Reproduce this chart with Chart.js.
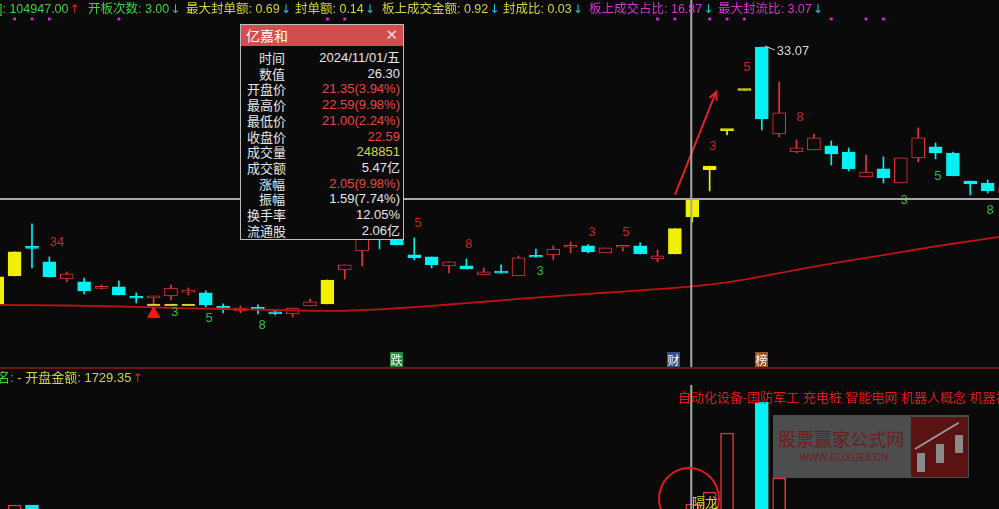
<!DOCTYPE html>
<html>
<head>
<meta charset="utf-8">
<script src="https://cdn.jsdelivr.net/npm/chart.js@4.4.1/dist/chart.umd.min.js"></script>
<style>
html, body { margin: 0; padding: 0; background: #0a0a0a; width: 999px; height: 509px; overflow: hidden; }
body { position: relative; font-family: "Liberation Sans", "Noto Sans CJK SC", sans-serif; }
canvas { position: absolute; left: 0; }
.t { position: absolute; white-space: nowrap; font-size: 12.5px; line-height: 16px; }
.g { color: #3fd23f; }
.y { color: #d4d43a; }
.m { color: #d233d2; }
.up { color: #e52a2a; margin-left: 1px; font-family: "DejaVu Sans", sans-serif; font-size: 12px; }
.dn { color: #18c8dc; margin-left: 1px; font-family: "DejaVu Sans", sans-serif; font-size: 12px; }
.tag { position: absolute; top: 352px; width: 13px; height: 15px; font-size: 12px; line-height: 15px; color: #fff; text-align: center; font-family: "Noto Sans CJK SC", sans-serif; }
#tip { position: absolute; left: 240px; top: 24px; width: 162px; height: 214px; background: #0a0a0a; border: 1px solid #bdbdbd; }
#tip .tt { height: 21px; background: #d24d4d; color: #fff; font-size: 14px; line-height: 21px; padding-left: 5px; font-family: "Noto Sans CJK SC", sans-serif; }
#tip .x { position: absolute; right: 5px; top: 0; color: #f3d6d6; font-size: 15px; font-family: "DejaVu Sans", sans-serif; }
#tip .r { position: absolute; left: 0; width: 159px; height: 16px; font-size: 13px; line-height: 16px; }
#tip .l { position: absolute; color: #e6e6e6; font-family: "Noto Sans CJK SC", sans-serif; }
#tip .v { position: absolute; right: 0; color: #e6e6e6; }
#tip .v.red { color: #e84646; }
#tip .v.yel { color: #d8d832; }
</style>
</head>
<body>
<canvas id="kline" width="999" height="368" style="top:0"></canvas>
<canvas id="vol" width="999" height="200" style="top:368px"></canvas>

<!-- indicator header -->
<div class="t g" style="left:-1px;top:1px">]: 104947.00<span class="up">↑</span></div>
<div class="t g" style="left:88px;top:1px">开板次数: 3.00<span class="dn">↓</span></div>
<div class="t y" style="left:186px;top:1px">最大封单额: 0.69<span class="dn">↓</span></div>
<div class="t y" style="left:295px;top:1px">封单额: 0.14<span class="dn">↓</span></div>
<div class="t y" style="left:382px;top:1px">板上成交金额: 0.92<span class="dn">↓</span></div>
<div class="t y" style="left:503px;top:1px">封成比: 0.03<span class="dn">↓</span></div>
<div class="t m" style="left:589px;top:1px">板上成交占比: 16.87<span class="dn">↓</span></div>
<div class="t m" style="left:718px;top:1px">最大封流比: 3.07<span class="dn">↓</span></div>

<!-- event tags -->
<div class="tag" style="left:390px;background:#1f8a3b">跌</div>
<div class="tag" style="left:667px;background:#34518c">财</div>
<div class="tag" style="left:755px;background:#9a5620">榜</div>
<div style="position:absolute;left:0;top:367px;width:999px;height:2px;background:#6e1414"></div>

<!-- lower panel header -->
<div class="t" style="left:-3px;top:370px;font-size:13px"><span class="g">名:</span><span class="y"> - 开盘金额: 1729.35</span><span class="up">↑</span></div>
<div class="t" style="left:678px;top:390px;font-size:13px;color:#e01a1a">自动化设备-国防军工 充电桩 智能电网 机器人概念 机器视觉</div>

<!-- watermark -->
<div style="position:absolute;left:773px;top:415px;width:196px;height:63px;background:rgba(120,120,120,0.62)">
  <div style="position:absolute;left:5px;top:14px;font-size:18px;line-height:19px;color:#6c1e1e;font-family:'Noto Sans CJK SC',sans-serif;white-space:nowrap">股票赢家公式网</div>
  <div style="position:absolute;left:26px;top:37px;font-size:10px;line-height:12px;color:#6c1e1e;white-space:nowrap">WWW.GUXUE8.CN</div>
  <div style="position:absolute;left:138px;top:2px;width:57px;height:60px;background:#5a1212">
    <div style="position:absolute;left:6px;top:36px;width:8px;height:19px;background:#8a8a8a"></div>
    <div style="position:absolute;left:25px;top:27px;width:8px;height:19px;background:#8a8a8a"></div>
    <div style="position:absolute;left:44px;top:18px;width:8px;height:18px;background:#8a8a8a"></div>
    <div style="position:absolute;left:4px;top:31px;width:51px;height:2px;background:#9a9a9a;transform-origin:0 50%;transform:rotate(-31deg)"></div>
  </div>
</div>

<!-- circled tag -->
<div style="position:absolute;left:658px;top:467px;width:58px;height:60px;border:2px solid #e01a1a;border-radius:50%"></div>
<div class="t" style="left:692px;top:494px;font-size:13px;color:#d8d832;font-family:'Noto Sans CJK SC',sans-serif">隔龙</div>

<!-- data window -->
<div id="tip">
  <div class="tt">亿嘉和<span class="x">✕</span></div>
  <div class="r" style="top:25px"><span class="l" style="left:18px">时间</span><span class="v">2024/11/01/五</span></div>
  <div class="r" style="top:41px"><span class="l" style="left:18px">数值</span><span class="v">26.30</span></div>
  <div class="r" style="top:56px"><span class="l" style="left:6px">开盘价</span><span class="v red">21.35(3.94%)</span></div>
  <div class="r" style="top:72px"><span class="l" style="left:6px">最高价</span><span class="v red">22.59(9.98%)</span></div>
  <div class="r" style="top:88px"><span class="l" style="left:6px">最低价</span><span class="v red">21.00(2.24%)</span></div>
  <div class="r" style="top:104px"><span class="l" style="left:6px">收盘价</span><span class="v red">22.59</span></div>
  <div class="r" style="top:119px"><span class="l" style="left:6px">成交量</span><span class="v yel">248851</span></div>
  <div class="r" style="top:135px"><span class="l" style="left:6px">成交额</span><span class="v">5.47亿</span></div>
  <div class="r" style="top:151px"><span class="l" style="left:18px">涨幅</span><span class="v red">2.05(9.98%)</span></div>
  <div class="r" style="top:166px"><span class="l" style="left:18px">振幅</span><span class="v">1.59(7.74%)</span></div>
  <div class="r" style="top:182px"><span class="l" style="left:6px">换手率</span><span class="v">12.05%</span></div>
  <div class="r" style="top:198px"><span class="l" style="left:6px">流通股</span><span class="v">2.06亿</span></div>
</div>

<script>
// daily bars, oldest first; bar 40 is 2024/11/01
const opens  = [15.28, 17.28, 19.32, 18.25, 17.07, 16.87, 16.42, 16.52, 15.78, 15.76,
                15.90, 16.16, 16.11, 15.10, 14.87, 15.02, 14.80, 14.66, 15.21, 15.35,
                17.69, 19.00, 20.60, 20.30, 18.73, 18.59, 17.97, 17.97, 17.35, 17.51,
                17.28, 18.61, 18.73, 19.26, 19.35, 18.87, 19.26, 19.35, 18.45, 18.80,
                21.35, 24.60, 27.30, 30.07, 33.07, 27.07, 25.83, 25.97, 26.25, 25.83,
                24.11, 24.66, 23.69, 25.42, 26.18, 25.76, 23.83, 23.69, 23.00];
const highs  = [17.21, 18.94, 20.87, 18.59, 17.56, 17.14, 16.66, 16.94, 16.11, 15.90,
                16.66, 16.45, 16.25, 15.35, 15.21, 15.28, 14.87, 15.07, 15.69, 17.00,
                18.04, 20.50, 21.00, 20.60, 19.90, 18.59, 18.25, 18.45, 17.83, 18.04,
                18.66, 19.14, 19.35, 19.62, 19.45, 19.21, 19.30, 19.56, 19.07, 20.54,
                22.59, 24.85, 27.34, 30.07, 33.07, 30.66, 26.66, 27.07, 26.59, 26.11,
                25.62, 25.49, 25.42, 27.49, 26.45, 25.83, 23.83, 23.90, 23.40];
const lows   = [15.28, 17.28, 17.83, 17.21, 16.87, 16.04, 16.38, 15.97, 15.42, 15.28,
                15.62, 15.97, 15.14, 14.73, 14.73, 14.66, 14.59, 14.45, 15.21, 15.35,
                17.07, 17.97, 19.14, 19.42, 18.38, 17.83, 17.49, 17.76, 17.35, 17.47,
                17.28, 18.57, 18.38, 18.87, 18.87, 18.87, 19.00, 18.80, 18.25, 18.80,
                21.00, 23.14, 27.00, 30.07, 27.35, 26.87, 25.76, 25.97, 24.93, 24.52,
                24.11, 23.69, 23.69, 25.14, 25.35, 24.18, 22.87, 23.00, 22.95];
const closes = [17.21, 18.94, 19.18, 17.21, 17.42, 16.25, 16.47, 15.97, 15.74, 15.90,
                16.45, 16.20, 15.28, 15.05, 15.07, 14.98, 14.66, 15.07, 15.49, 17.00,
                18.04, 20.00, 20.20, 19.42, 18.52, 18.04, 18.25, 17.76, 17.56, 17.47,
                18.52, 18.57, 19.14, 19.30, 18.94, 19.21, 19.30, 18.80, 18.67, 20.54,
                22.59, 24.85, 27.34, 30.07, 28.11, 28.52, 26.11, 26.80, 25.69, 24.66,
                24.45, 24.04, 25.42, 26.80, 25.76, 24.18, 23.62, 23.14, 23.35];
const volumes = [150000, 245000, 245000, 200000, 120000, 140000, 90000, 110000, 95000, 85000,
                 100000, 70000, 110000, 80000, 65000, 70000, 60000, 75000, 70000, 160000,
                 190000, 210000, 200000, 150000, 160000, 130000, 110000, 100000, 80000, 75000,
                 120000, 95000, 100000, 85000, 90000, 80000, 75000, 90000, 85000, 180000,
                 248851, 295000, 525000, 40000, 645000, 350000, 220000, 200000, 210000, 190000,
                 170000, 160000, 200000, 215000, 170000, 180000, 140000, 130000, 120000];
const maLine = [15.28, 15.27, 15.26, 15.25, 15.24, 15.22, 15.20, 15.17, 15.14, 15.11,
                15.07, 15.04, 15.02, 15.00, 14.98, 14.95, 14.93, 14.90, 14.88, 14.87,
                14.88, 14.92, 14.98, 15.05, 15.13, 15.22, 15.31, 15.40, 15.50, 15.60,
                15.70, 15.78, 15.87, 15.95, 16.04, 16.12, 16.20, 16.28, 16.37, 16.46,
                16.56, 16.68, 16.83, 17.02, 17.25, 17.48, 17.70, 17.92, 18.13, 18.33,
                18.53, 18.72, 18.92, 19.12, 19.32, 19.50, 19.68, 19.86, 20.02];
const limitUpDays = [0, 1, 19, 39, 40, 41, 42, 43];
const signalDays = [1, 2, 3, 7, 19, 20, 38, 39, 41, 42, 43, 48, 50, 51];
const supportDays = [9, 10, 11];
const supportLevel = 15.28;
const buyDays = [9];
const buyLevel = 14.66;
const signalLevel = 35.0;
const selectedDay = 40;

// wave count labels: [bar position, price, text, above?]
const waveMarks = [
  [3.44, 19.62, '34', true], [10.23, 14.73, '3', false], [12.19, 14.38, '5', false],
  [15.24, 13.90, '8', false], [24.22, 20.93, '5', true], [27.15, 19.42, '8', true],
  [31.24, 17.62, '3', false], [34.23, 20.31, '3', true], [36.19, 20.25, '5', true],
  [41.19, 26.18, '3', true], [43.15, 31.69, '5', true], [46.20, 28.18, '8', true],
  [52.19, 22.52, '3', false], [54.14, 24.11, '5', false], [57.14, 21.83, '8', false]
];
const rallyArrow = [[39.0, 22.87], [41.37, 29.97]];

const BG = '#0a0a0a';
const RED = '#e23636';
const CYAN = '#00f2f2';
const YELLOW = '#f0f000';

const idx = opens.map((_, i) => i);
const isUp = i => closes[i] >= opens[i];
const lineColor = i => limitUpDays.includes(i) ? YELLOW : (isUp(i) ? RED : CYAN);
const fillColor = i => limitUpDays.includes(i) ? YELLOW : (isUp(i) ? BG : CYAN);

const xScale = { type: 'linear', min: 0.16, max: 57.652, display: false, offset: false };

const marksPlugin = {
  id: 'marks',
  afterDatasetsDraw(chart) {
    const { ctx, scales: { x, y } } = chart;
    ctx.save();
    ctx.font = '13px "Liberation Sans", sans-serif';
    ctx.textAlign = 'center';
    ctx.textBaseline = 'middle';
    waveMarks.forEach(m => {
      ctx.fillStyle = m[3] ? '#d42222' : '#2fbf2f';
      ctx.fillText(m[2], x.getPixelForValue(m[0]), y.getPixelForValue(m[1]));
    });

    // rally arrow
    const ax0 = x.getPixelForValue(rallyArrow[0][0]), ay0 = y.getPixelForValue(rallyArrow[0][1]);
    const ax1 = x.getPixelForValue(rallyArrow[1][0]), ay1 = y.getPixelForValue(rallyArrow[1][1]);
    const ang = Math.atan2(ay1 - ay0, ax1 - ax0);
    ctx.strokeStyle = '#e02222';
    ctx.lineWidth = 2;
    ctx.beginPath();
    ctx.moveTo(ax0, ay0);
    ctx.lineTo(ax1, ay1);
    ctx.moveTo(ax1 - 9 * Math.cos(ang - 0.45), ay1 - 9 * Math.sin(ang - 0.45));
    ctx.lineTo(ax1, ay1);
    ctx.lineTo(ax1 - 9 * Math.cos(ang + 0.45), ay1 - 9 * Math.sin(ang + 0.45));
    ctx.stroke();

    // highest price note
    const top = highs.indexOf(Math.max(...highs));
    const hx = x.getPixelForValue(top), hy = y.getPixelForValue(highs[top]);
    ctx.strokeStyle = '#d8d8d8';
    ctx.lineWidth = 1;
    ctx.beginPath();
    ctx.moveTo(hx + 3, hy - 1);
    ctx.lineTo(hx + 13, hy + 3);
    ctx.stroke();
    ctx.fillStyle = '#d8d8d8';
    ctx.textAlign = 'left';
    ctx.fillText(highs[top].toFixed(2), hx + 15, hy + 4);

    // crosshair
    const cx = x.getPixelForValue(selectedDay) - 1;
    const cy = y.getPixelForValue(closes[selectedDay]);
    ctx.strokeStyle = '#a8a8a8';
    ctx.lineWidth = 2;
    ctx.beginPath();
    ctx.moveTo(cx, 0);
    ctx.lineTo(cx, chart.height);
    ctx.moveTo(0, cy);
    ctx.lineTo(chart.width, cy);
    ctx.stroke();
    ctx.restore();
  }
};

const volCrossPlugin = {
  id: 'volCross',
  afterDatasetsDraw(chart) {
    const { ctx, scales: { x } } = chart;
    const cx = x.getPixelForValue(selectedDay) - 1;
    ctx.save();
    ctx.strokeStyle = '#a8a8a8';
    ctx.lineWidth = 2;
    ctx.beginPath();
    ctx.moveTo(cx, 17);
    ctx.lineTo(cx, chart.height);
    ctx.stroke();
    ctx.restore();
  }
};

new Chart(document.getElementById('kline'), {
  type: 'bar',
  data: {
    datasets: [
      {
        label: 'wick',
        data: idx.map(i => ({ x: i, y: [lows[i], highs[i]] })),
        backgroundColor: idx.map(lineColor),
        barThickness: 1,
        grouped: false,
        order: 4
      },
      {
        label: 'body',
        data: idx.map(i => ({ x: i, y: [Math.min(opens[i], closes[i]), Math.max(opens[i], closes[i])] })),
        backgroundColor: idx.map(fillColor),
        borderColor: idx.map(lineColor),
        borderWidth: 1,
        borderSkipped: false,
        barThickness: 13,
        minBarLength: 2,
        grouped: false,
        order: 3
      },
      {
        type: 'line',
        label: 'MA',
        data: idx.map(i => ({ x: i, y: maLine[i] })),
        borderColor: '#bf1212',
        borderWidth: 1.8,
        pointRadius: 0,
        order: 2
      },
      {
        type: 'line',
        label: 'signal',
        showLine: false,
        data: signalDays.map(i => ({ x: i, y: signalLevel })),
        pointStyle: 'rect',
        pointRadius: 2,
        backgroundColor: '#d22cd2',
        borderWidth: 0,
        order: 1
      },
      {
        type: 'line',
        label: 'support',
        showLine: false,
        data: supportDays.map(i => ({ x: i, y: supportLevel })),
        pointStyle: 'line',
        pointRadius: 6.5,
        borderColor: '#d8d030',
        borderWidth: 2,
        order: 1
      },
      {
        type: 'line',
        label: 'buy',
        showLine: false,
        data: buyDays.map(i => ({ x: i, y: buyLevel })),
        pointStyle: 'triangle',
        pointRadius: 7,
        backgroundColor: '#ff1414',
        borderColor: '#ff1414',
        borderWidth: 1,
        order: 1
      }
    ]
  },
  options: {
    responsive: false,
    animation: false,
    devicePixelRatio: 1,
    events: [],
    layout: { padding: 0, autoPadding: false },
    plugins: { legend: { display: false }, tooltip: { enabled: false } },
    scales: {
      x: xScale,
      y: { min: 10.93, max: 36.31, display: false }
    }
  },
  plugins: [marksPlugin]
});

new Chart(document.getElementById('vol'), {
  type: 'bar',
  data: {
    datasets: [{
      label: 'volume',
      data: idx.map(i => ({ x: i, y: volumes[i] })),
      backgroundColor: idx.map(i => isUp(i) ? BG : CYAN),
      borderColor: idx.map(i => isUp(i) ? RED : CYAN),
      borderWidth: 1.5,
      borderSkipped: false,
      barThickness: 13
    }]
  },
  options: {
    responsive: false,
    animation: false,
    devicePixelRatio: 1,
    events: [],
    layout: { padding: 0, autoPadding: false },
    plugins: { legend: { display: false }, tooltip: { enabled: false } },
    scales: {
      x: xScale,
      y: { min: 0, max: 777660, display: false }
    }
  },
  plugins: [volCrossPlugin]
});
</script>
</body>
</html>
